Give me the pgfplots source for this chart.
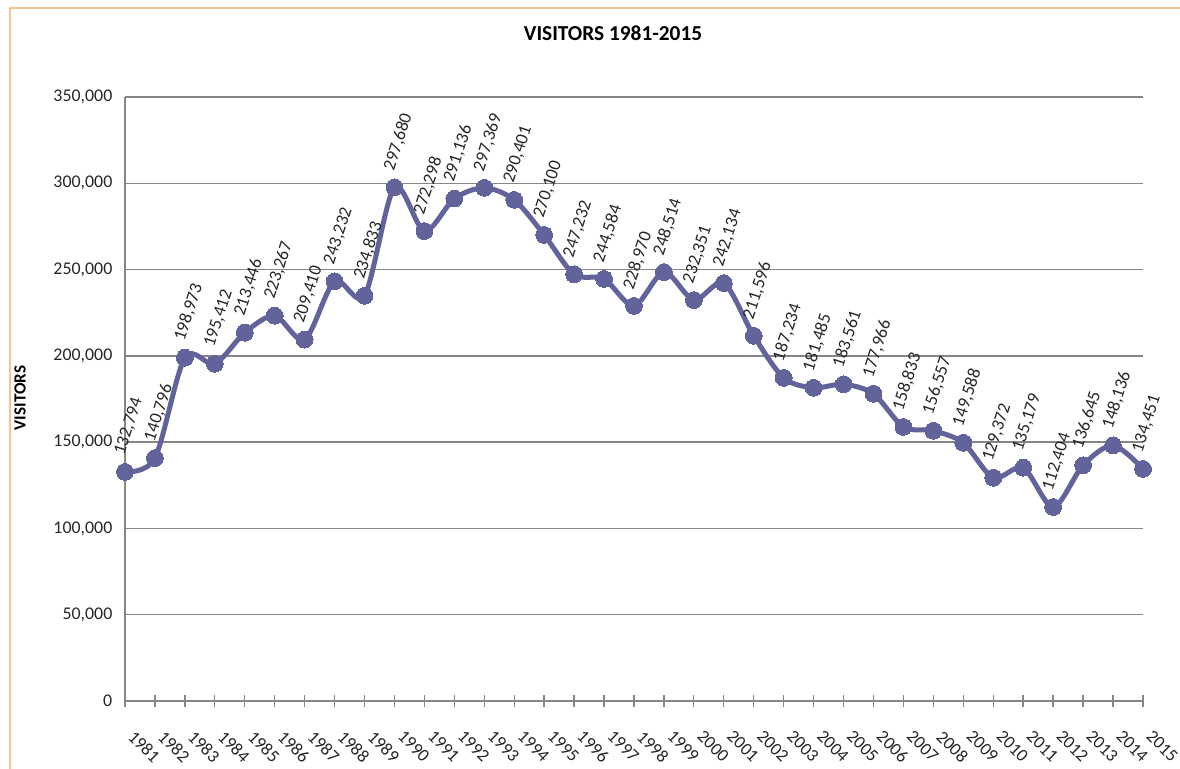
\documentclass[border=0pt]{standalone}
\usepackage{pgfplots}
\pgfplotsset{compat=1.18}
\usepackage{fontspec}
\setmainfont{Carlito}
\definecolor{lineblue}{RGB}{99,99,155}
\definecolor{gridgray}{RGB}{134,134,134}
\definecolor{frameorange}{RGB}{242,196,150}
\begin{document}
\begin{tikzpicture}[x=1pt,y=1pt]
\path[use as bounding box] (0,0) rectangle (885,576);
\draw[frameorange, line width=1.5pt] (7.5,-5) -- (7.5,570) -- (890,570);
\begin{axis}[
  at={(93.75pt,50.25pt)}, anchor=south west,
  scale only axis, width=763.5pt, height=453pt,
  xmin=1981, xmax=2015, ymin=0, ymax=350000,
  xtick={1981,...,2015},
  ytick={0,50000,...,350000},
  scaled y ticks=false,
  /pgf/number format/.cd, fixed, precision=0, 1000 sep={,}, assume math mode=true, /pgfplots/.cd,
  axis x line*=bottom, axis y line*=left,
  axis line style={gridgray, line width=1pt, -},
  ymajorgrids, grid style={gridgray, line width=1pt},
  xtick align=center, major tick length=9pt,
  x tick style={gridgray, line width=1pt},
  y tick style={draw=none},
  ticklabel style={font=\fontsize{13.4}{15}\selectfont, text=black!85},
  xticklabel style={/pgf/number format/1000 sep={}, xshift=8pt, yshift=-16.5pt, rotate=-45, anchor=north west, inner sep=0pt},
  yticklabel style={xshift=-6pt},
  clip=false,
  nodes near coords,
  every node near coord/.append style={font=\fontsize{13.4}{15}\selectfont, text=black!85, xshift=-4pt, yshift=13pt, rotate=72, anchor=west, inner sep=0pt},
]
\addplot[lineblue, line width=3.75pt, smooth, tension=0.5, mark=*, mark size=6.3pt, mark options={fill=lineblue, draw=lineblue, line width=0pt}] coordinates {
(1981,132794) (1982,140796) (1983,198973) (1984,195412) (1985,213446)
(1986,223267) (1987,209410) (1988,243232) (1989,234833) (1990,297680)
(1991,272298) (1992,291136) (1993,297369) (1994,290401) (1995,270100)
(1996,247232) (1997,244584) (1998,228970) (1999,248514) (2000,232351)
(2001,242134) (2002,211596) (2003,187234) (2004,181485) (2005,183561)
(2006,177966) (2007,158833) (2008,156557) (2009,149588) (2010,129372)
(2011,135179) (2012,112404) (2013,136645) (2014,148136) (2015,134451)
};
\end{axis}
\node[font=\bfseries\fontsize{16}{19}\selectfont, text=black] at (459.75,551.25) {VISITORS 1981-2015};
\node[font=\bfseries\fontsize{12.8}{15}\selectfont, text=black, rotate=90] at (15,277.5) {VISITORS};
\end{tikzpicture}
\end{document}
